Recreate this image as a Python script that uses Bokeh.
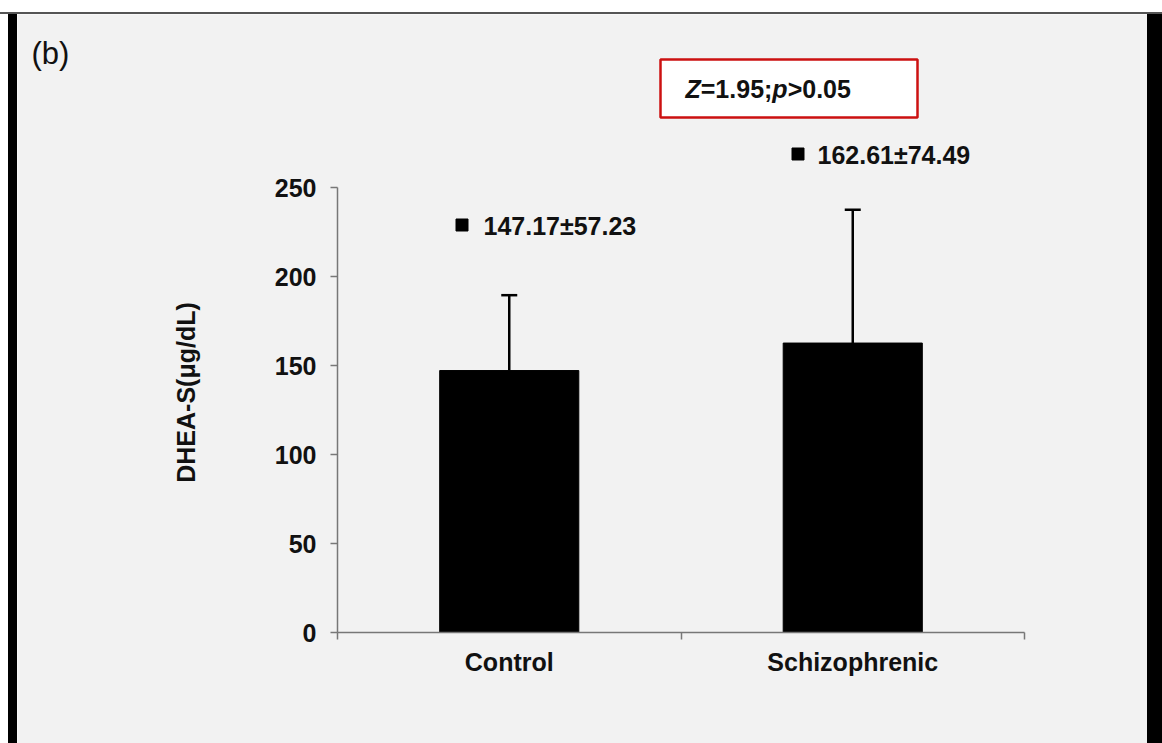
from bokeh.plotting import figure
from bokeh.models import (Range1d, FixedTicker, Label, BoxAnnotation, Whisker,
                          TeeHead, ColumnDataSource, Div)
from bokeh.layouts import column, row
from bokeh.embed import file_html
from bokeh.resources import INLINE
import math

# ---------------- data ----------------
categories = ["Control", "Schizophrenic"]
means = [147.17, 162.61]
sds = [57.23, 74.49]
whisker_tops = [189.5, 237.5]          # error-bar tops as drawn in the picture
y_ticks = [0, 50, 100, 150, 200, 250]
test_stat = "1.95"
p_text = "0.05"
panel_tag = "(b)"
y_title = "DHEA-S(μg/dL)"

# ---------------- layout constants ----------------
FONT = "Liberation Sans"
BG = "#f2f2f2"
TXT = "#111111"
FIG_X0, FIG_Y0 = 17, 14          # page position of the figure
W, H = 1130, 729
PX_PER_X = 343.5                 # pixels per category
PX_PER_Y = 1.78                  # pixels per unit
ORIG_X, ORIG_Y = 337, 632        # page position of the data origin

# helpers: page pixel -> data coordinates (for annotations only)
def px(x):
    return (x - ORIG_X) / PX_PER_X
def py(y):
    return (ORIG_Y - y) / PX_PER_Y

xs = [i + 0.5 for i in range(len(categories))]

p = figure(width=W, height=H, output_backend="svg", toolbar_location=None,
           x_range=Range1d(px(FIG_X0), px(FIG_X0 + W)),
           y_range=Range1d(py(FIG_Y0 + H), py(FIG_Y0)),
           min_border=0, title=None)
p.background_fill_color = BG
p.border_fill_color = BG
p.outline_line_color = None
p.grid.visible = False

# axes
AX = "#777777"
xa = p.xaxis[0]
xa.fixed_location = 0
xa.ticker = FixedTicker(ticks=xs, minor_ticks=list(range(len(categories) + 1)))
xa.major_label_overrides = {x: c for x, c in zip(xs, categories)}
xa.bounds = (0, len(categories))
xa.major_tick_out = 0
xa.major_tick_in = 0
xa.minor_tick_out = 7
xa.minor_tick_in = 0
xa.minor_tick_line_color = AX
xa.minor_tick_line_width = 1.5
xa.axis_line_color = AX
xa.axis_line_width = 1.5
xa.major_label_standoff = 8
xa.major_label_text_font = FONT
xa.major_label_text_font_style = "bold"
xa.major_label_text_font_size = "25px"
xa.major_label_text_color = TXT

ya = p.yaxis[0]
ya.fixed_location = 0
ya.ticker = FixedTicker(ticks=y_ticks)
ya.bounds = (0, max(y_ticks))
ya.major_tick_out = 7
ya.major_tick_in = 0
ya.minor_tick_line_color = None
ya.major_tick_line_color = AX
ya.major_tick_line_width = 1.5
ya.axis_line_color = AX
ya.axis_line_width = 1.5
ya.major_label_standoff = 14
ya.major_label_text_font = FONT
ya.major_label_text_font_style = "bold"
ya.major_label_text_font_size = "25px"
ya.major_label_text_color = TXT

# bars
src = ColumnDataSource(dict(x=xs, top=means, upper=whisker_tops))
p.vbar(x="x", top="top", width=0.405, source=src, fill_color="black", line_color="black")

# error bars (upper only)
wh = Whisker(base="x", lower="top", upper="upper", source=src, dimension="height",
             line_color="black", line_width=2.5,
             upper_head=TeeHead(size=16, line_color="black", line_width=2.5),
             lower_head=None)
p.add_layout(wh)

# value labels with square markers
label_sq = [(461.5, 224.5), (797.5, 153.5)]
label_tx = [(483, 225.5), (817, 154.5)]
for (sx, sy), (tx, ty), m, s in zip(label_sq, label_tx, means, sds):
    p.scatter([px(sx)], [py(sy)], marker="square", size=12, fill_color="black",
              line_color="black")
    p.add_layout(Label(x=px(tx), y=py(ty), text=f"{m:.2f}±{s:.2f}",
                       text_font=FONT, text_font_style="bold", text_font_size="25px",
                       text_color=TXT, text_baseline="middle", text_align="left"))

# statistic box
box = BoxAnnotation(left=px(660), right=px(917), top=py(59), bottom=py(117),
                    fill_color="white", fill_alpha=1, line_color="#cc1111",
                    line_width=2.5, line_alpha=1)
p.add_layout(box)
parts = [("Z", "bold italic"), ("=" + test_stat + ";", "bold"), ("p", "bold italic"),
         (">" + p_text, "bold")]
widths = [0.611, 0.584 + 0.556 * 3 + 0.278 + 0.333, 0.611, 0.584 + 0.556 * 3 + 0.278]
FS = 25
cx = 685
for (t, st), w in zip(parts, widths):
    p.add_layout(Label(x=px(cx), y=py(88), text=t, text_font=FONT, text_font_style=st,
                       text_font_size=f"{FS}px", text_color=TXT,
                       text_baseline="middle", text_align="left"))
    cx += w * FS

# panel tag
p.add_layout(Label(x=px(31), y=py(53), text=panel_tag, text_font=FONT,
                   text_font_style="normal", text_font_size="31px", text_color=TXT,
                   text_baseline="middle", text_align="left"))

# y title
p.add_layout(Label(x=px(185), y=py(392), text=y_title, angle=math.pi / 2,
                   text_font=FONT, text_font_style="bold", text_font_size="25px",
                   text_color=TXT, text_baseline="middle", text_align="center"))

def block(w, h, color):
    return Div(text="", width=w, height=h, margin=0, styles={"background-color": color})

layout = column(
    block(1162, 12, "white"),
    block(1162, 2, "#555555"),
    row(block(8, H, "white"), block(9, H, "black"), p, block(15, H, "black"), spacing=0),
    spacing=0)

open("out.html", "w").write(file_html(layout, INLINE))
